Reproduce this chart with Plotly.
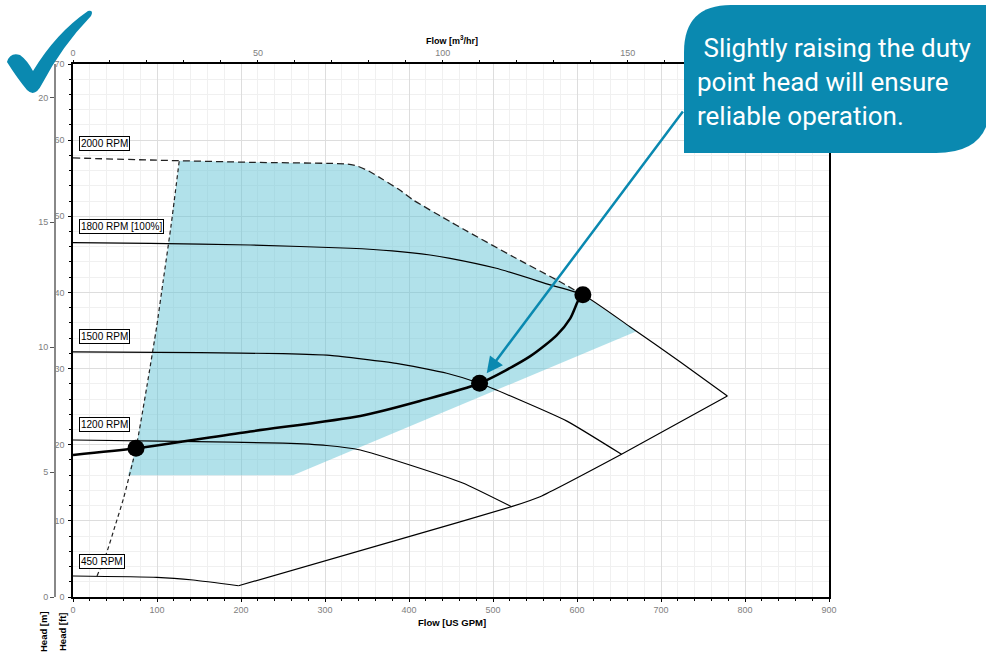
import plotly.graph_objects as go

# ---------------- layout geometry (pixels) ----------------
W, H = 986, 654
ML, MR, MT, MB = 20, 157, 64, 57
PW = W - ML - MR
PH = H - MT - MB
PLOT_LEFT_PX = 73
M_AXIS_PX = 55


def px_x(px):
    return (px - ML) / PW


def px_y(py):
    return (H - MB - py) / PH


GPM_PER_M3H = 4.402868
FT_PER_M = 3.28084
X_MAX_GPM = 900
Y_MAX_FT = 70

# ---------------- data ----------------
rpm2000_gpm = [0, 92, 211, 326, 338, 352, 368, 389, 405, 449, 465, 524, 576, 607]
rpm2000_ft = [57.66, 57.39, 57.09, 56.87, 56.61, 55.95, 54.9, 53.45, 52.14, 49.3, 48.3, 44.69, 41.63, 39.7]

rpm1800_gpm = [0, 92, 211, 330, 380, 425, 449, 504, 568, 607, 663, 723, 779]
rpm1800_ft = [46.53, 46.45, 46.23, 45.80, 45.45, 44.92, 44.48, 43.17, 41.00, 39.7, 35.5, 30.86, 26.4]

rpm1500_gpm = [0, 151, 250, 306, 385, 445, 484, 532, 588, 653]
rpm1500_ft = [32.2, 32.1, 31.95, 31.72, 30.69, 29.38, 28.07, 25.87, 23.1, 18.74]

rpm1200_gpm = [0, 127, 250, 302, 342, 401, 464, 522]
rpm1200_ft = [20.62, 20.45, 20.2, 19.9, 19.31, 17.34, 14.97, 11.86]

rpm450_gpm = [0, 100, 143, 197]
rpm450_ft = [2.76, 2.59, 2.23, 1.48]

end_gpm = [197, 401, 522, 556, 653, 779]
end_ft = [1.48, 7.96, 11.86, 13.17, 18.74, 26.40]

minflow_gpm = [28.6, 40, 50, 60, 75, 88, 99.6, 107.5, 117, 126.5]
minflow_ft = [2.76, 5.8, 9.3, 12.9, 19.53, 27.7, 35.5, 41.63, 49.0, 57.3]

system_gpm = [0, 75, 211, 342, 413, 484, 544, 576, 592, 600, 605]
system_ft = [18.65, 19.53, 21.74, 23.77, 25.74, 28.07, 31.6, 34.4, 36.6, 38.6, 39.8]

duty_gpm = [75, 484, 607]
duty_ft = [19.53, 28.07, 39.7]

shade_gpm = [65.5, 75, 88, 99.6, 107.5, 117, 126.5, 211, 326, 338, 352, 368, 389, 405, 449, 465,
             524, 576, 607, 640, 671, 262, 65.5]
shade_ft = [16.0, 19.53, 27.7, 35.5, 41.63, 49.0, 57.3, 57.09, 56.87, 56.61, 55.95, 54.9, 53.45, 52.14,
            49.3, 48.3, 44.69, 41.63, 39.7, 37.2, 34.9, 16.0, 16.0]

rpm_labels = ["2000 RPM", "1800 RPM [100%]", "1500 RPM", "1200 RPM", "450 RPM"]
rpm_label_ft = [59.56, 48.6, 34.24, 22.59, 4.69]
rpm_label_gpm = 7

x_ticks_gpm = [0, 100, 200, 300, 400, 500, 600, 700, 800, 900]
x_ticks_m3h = [0, 50, 100, 150]
y_ticks_ft = [0, 10, 20, 30, 40, 50, 60, 70]
y_ticks_m = [0, 5, 10, 15, 20]

callout_text = "\u00a0Slightly raising the duty<br>point head will ensure<br>reliable operation."
arrow_tip = (492.5, 29.38)
arrow_tail = (727.4, 63.96)

TEAL = "#0A89B0"
SHADE = "rgba(100,196,213,0.5)"
TICKGRAY = "#808080"
FONT = "Liberation Sans, Arial, sans-serif"

# ---------------- figure ----------------
fig = go.Figure()

fig.add_trace(go.Scatter(x=shade_gpm, y=shade_ft, fill="toself", fillcolor=SHADE,
                         line=dict(width=0), mode="lines", hoverinfo="skip"))

speed_lines = [
    (rpm1800_gpm, rpm1800_ft),
    (rpm1500_gpm, rpm1500_ft),
    (rpm1200_gpm, rpm1200_ft),
    (rpm450_gpm, rpm450_ft),
    (end_gpm, end_ft),
]
for gx, gy in speed_lines:
    fig.add_trace(go.Scatter(x=gx, y=gy, mode="lines",
                             line=dict(color="black", width=1.2, shape="spline", smoothing=0.5)))

fig.add_trace(go.Scatter(x=rpm2000_gpm, y=rpm2000_ft, mode="lines",
                         line=dict(color="#222222", width=1.3, dash="7px,4px",
                                   shape="spline", smoothing=0.5)))
fig.add_trace(go.Scatter(x=minflow_gpm, y=minflow_ft, mode="lines",
                         line=dict(color="#222222", width=1.2, dash="4px,3px",
                                   shape="spline", smoothing=0.5)))
fig.add_trace(go.Scatter(x=system_gpm, y=system_ft, mode="lines",
                         line=dict(color="black", width=2.5, shape="spline", smoothing=0.7)))
fig.add_trace(go.Scatter(x=duty_gpm, y=duty_ft, mode="markers",
                         marker=dict(color="black", size=17)))

# invisible traces to activate secondary axes (same system curve in other units)
fig.add_trace(go.Scatter(x=[g / GPM_PER_M3H for g in system_gpm], y=system_ft,
                         xaxis="x2", yaxis="y", mode="lines", opacity=0, hoverinfo="skip"))
fig.add_trace(go.Scatter(x=system_gpm, y=[f / FT_PER_M for f in system_ft],
                         xaxis="x", yaxis="y2", mode="lines", opacity=0, hoverinfo="skip"))

tickfont = dict(family=FONT, size=9, color=TICKGRAY)

fig.update_layout(
    width=W, height=H,
    margin=dict(l=ML, r=MR, t=MT, b=MB),
    paper_bgcolor="white", plot_bgcolor="white",
    showlegend=False,
    xaxis=dict(domain=[px_x(PLOT_LEFT_PX), 1], range=[0, X_MAX_GPM], tickvals=x_ticks_gpm,
               showline=True, linecolor="black", linewidth=1.5, mirror=True,
               ticks="outside", ticklen=3, tickcolor="black", tickfont=tickfont,
               showgrid=True, gridcolor="#dddddd", gridwidth=1, zeroline=False,
               minor=dict(dtick=20, showgrid=True, gridcolor="#f0f0f0", ticks="outside",
                          ticklen=2, tickcolor="black")),
    yaxis=dict(domain=[0, 1], range=[0, Y_MAX_FT], tickvals=y_ticks_ft,
               showline=True, linecolor="black", linewidth=1.5, mirror=True,
               ticks="outside", ticklen=3, tickcolor="black", tickfont=tickfont,
               ticklabelstandoff=2,
               showgrid=True, gridcolor="#dddddd", gridwidth=1, zeroline=False,
               minor=dict(dtick=2, showgrid=True, gridcolor="#f0f0f0", ticks="outside",
                          ticklen=2, tickcolor="black")),
    xaxis2=dict(overlaying="x", side="top", anchor="y", range=[0, X_MAX_GPM / GPM_PER_M3H],
                tickvals=x_ticks_m3h, ticks="outside", ticklen=3, tickcolor="black",
                tickfont=tickfont, showgrid=False, showline=False, zeroline=False,
                minor=dict(dtick=10, ticks="outside", ticklen=3, tickcolor="black")),
    yaxis2=dict(overlaying="y", side="left", anchor="free", position=px_x(M_AXIS_PX),
                range=[0, Y_MAX_FT / FT_PER_M], tickvals=y_ticks_m,
                showline=True, linecolor="#888888", linewidth=2,
                ticks="outside", ticklen=4, tickcolor="#555555", tickfont=tickfont,
                showgrid=False, zeroline=False),
)

# RPM labels
for lab, fy in zip(rpm_labels, rpm_label_ft):
    fig.add_annotation(x=rpm_label_gpm, y=fy, xref="x", yref="y", text=lab, showarrow=False,
                       xanchor="left", yanchor="middle",
                       font=dict(family=FONT, size=10, color="black"),
                       bgcolor="white", bordercolor="black", borderwidth=1, borderpad=1)

# axis titles
title_font = dict(family=FONT, size=9.5, color="black")
fig.add_annotation(x=px_x(452), y=px_y(622), xref="paper", yref="paper",
                   xanchor="center", yanchor="middle",
                   text="<b>Flow [US GPM]</b>", showarrow=False, font=title_font)
fig.add_annotation(x=px_x(452), y=px_y(40), xref="paper", yref="paper",
                   xanchor="center", yanchor="middle",
                   text="<b>Flow [m<sup>3</sup>/hr]</b>", showarrow=False,
                   font=dict(family=FONT, size=9, color="black"))
fig.add_annotation(x=px_x(43), y=px_y(632), xref="paper", yref="paper",
                   xanchor="center", yanchor="middle",
                   text="<b>Head [m]</b>", textangle=-90, showarrow=False, font=title_font)
fig.add_annotation(x=px_x(62), y=px_y(632), xref="paper", yref="paper",
                   xanchor="center", yanchor="middle",
                   text="<b>Head [ft]</b>", textangle=-90, showarrow=False, font=title_font)


def path_px(cmds):
    out = []
    for c in cmds:
        if isinstance(c, str):
            out.append(c)
        else:
            out.append(f"{px_x(c[0]):.5f},{px_y(c[1]):.5f}")
    return " ".join(out)


# callout box (leaf shape)
callout_path = path_px(["M", (684, 153), "L", (684, 52), "Q", (684, 5), (731, 5), "L", (990, 5),
                        "L", (990, 104), "Q", (990, 153), (936, 153), "Z"])
fig.add_shape(type="path", path=callout_path, xref="paper", yref="paper",
              fillcolor=TEAL, line=dict(width=0), layer="above")
fig.add_annotation(x=px_x(695), y=px_y(82), xref="paper", yref="paper", text=callout_text,
                   showarrow=False, xanchor="left", yanchor="middle", align="left",
                   font=dict(family="Roboto, sans-serif", size=26, color="white"))

# arrow
fig.add_annotation(x=arrow_tip[0], y=arrow_tip[1], ax=arrow_tail[0], ay=arrow_tail[1],
                   xref="x", yref="y", axref="x", ayref="y", text="", showarrow=True,
                   arrowhead=2, arrowsize=1.3, arrowwidth=2.5, arrowcolor=TEAL, standoff=0)

# check mark
check_path = path_px(["M", (7, 62), "Q", (10, 52), (20, 55), "Q", (27, 60), (33, 71),
                      "Q", (56, 33), (88, 11), "Q", (94, 10), (91, 16),
                      "Q", (62, 46), (42, 84), "Q", (35, 98), (27, 90), "Q", (17, 78), (7, 62), "Z"])
fig.add_shape(type="path", path=check_path, xref="paper", yref="paper",
              fillcolor=TEAL, line=dict(width=0), layer="above")

fig.write_html("out.html", config={"displayModeBar": False},
               post_script="document.body.style.margin='0';document.body.style.overflow='hidden';")
